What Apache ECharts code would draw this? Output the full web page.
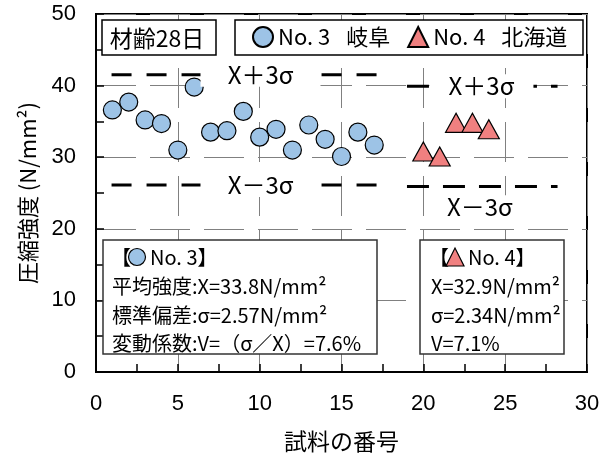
<!DOCTYPE html>
<html><head><meta charset="utf-8">
<script src="https://cdn.jsdelivr.net/npm/echarts@6/dist/echarts.min.js"></script>
<style>html,body{margin:0;padding:0;background:#fff}#c{width:609px;height:459px}</style>
</head><body><div id="c"></div>
<script>
// ---- data ----
const no3Sample = [1,2,3,4,5,6,7,8,9,10,11,12,13,14,15,16,17];
const no3Strength = [36.6,37.7,35.2,34.7,31.0,39.8,33.5,33.7,36.4,32.8,33.9,31.0,34.5,32.5,30.1,33.5,31.7];
const no4Sample = [20,21,22,23,24];
const no4Strength = [30.8,30.1,34.8,34.8,33.9];
const no3Limits = [41.5, 26.1];      // X+3σ, X−3σ
const no4Limits = [39.9, 25.9];
const no3LimitRange = [0.95, 17.2];
const no4LimitRange = [19.0, 28.2];
const seriesNames = ['No. 3\u2002 岐阜', 'No. 4\u2002 北海道'];
const limitTexts = ['X＋3σ', 'X－3σ'];
const ageText = '材齢28日';
const no3Title = 'No. 3】';
const no4Title = 'No. 4】';
const no3Stats = ['平均強度:X=33.8N/mm²', '標準偏差:σ=2.57N/mm²', '変動係数:V=（σ／X）=7.6%'];
const no4Stats = ['X=32.9N/mm²', 'σ=2.34N/mm²', 'V=7.1%'];
const xAxisName = '試料の番号';
const yAxisName = '圧縮強度 (N/mm²)';

// ---- style ----
const JP = "'Noto Sans CJK JP', sans-serif";
const NUM = "'Liberation Sans', sans-serif";
const BLUE = '#9DC3E6', RED = '#F08080';

function limitLine(range, y, dash, labels) {
  return {
    type: 'line', data: [[range[0], y], [range[1], y]], symbol: 'none', silent: true,
    lineStyle: { color: '#000', width: 3, type: dash }, z: 3,
    markPoint: {
      silent: true, z: 6, animation: false,
      data: labels.map(l => ({
        coord: [l.x, l.y], symbol: 'rect', symbolSize: [l.w, 24],
        itemStyle: { color: '#fff', borderWidth: 0 },
        label: { show: true, position: 'inside', formatter: l.text, color: '#000', fontFamily: JP, fontSize: 24 }
      }))
    }
  };
}

const chart = echarts.init(document.getElementById('c'), null, { renderer: 'canvas' });
chart.setOption({
  animation: false,
  backgroundColor: '#fff',
  grid: { left: 96, right: 22, top: 14, bottom: 87, show: true, borderColor: '#000', borderWidth: 2, containLabel: false },
  xAxis: {
    type: 'value', min: 0, max: 30, interval: 5,
    name: xAxisName, nameLocation: 'middle', nameGap: 58,
    nameTextStyle: { fontFamily: JP, fontSize: 23, color: '#000' },
    axisLine: { lineStyle: { color: '#000', width: 2 } },
    axisTick: { inside: true, length: 8, lineStyle: { color: '#000', width: 1.5 } },
    minorTick: { show: true, splitNumber: 2, length: 8, lineStyle: { color: '#000', width: 1.5 } },
    axisLabel: { fontFamily: NUM, fontSize: 22, color: '#000', margin: 21 },
    splitLine: { show: true, lineStyle: { color: '#808080', width: 1, type: [40, 14] } }
  },
  yAxis: {
    type: 'value', min: 0, max: 50, interval: 10,
    name: yAxisName, nameLocation: 'middle', nameGap: 57, nameRotate: 90,
    nameTextStyle: { fontFamily: JP, fontSize: 22, color: '#000' },
    axisLine: { show: true, lineStyle: { color: '#000', width: 2 } },
    axisTick: { show: true, inside: true, length: 8, lineStyle: { color: '#000', width: 1.5 } },
    minorTick: { show: true, splitNumber: 2, length: 8, lineStyle: { color: '#000', width: 1.5 } },
    axisLabel: { fontFamily: NUM, fontSize: 22, color: '#000', margin: 20 },
    splitLine: { show: true, lineStyle: { color: '#808080', width: 1, type: [40, 14] } }
  },
  legend: {
    data: seriesNames, left: 252, top: 26, padding: 0, itemWidth: 20, itemHeight: 20, itemGap: 17,
    textStyle: { fontFamily: JP, fontSize: 22, color: '#000' }, z: 10
  },
  series: [
    limitLine(no3LimitRange, no3Limits[0], [20, 15], [{ x: 10.05, y: no3Limits[0], w: 120, text: limitTexts[0] }]),
    limitLine(no3LimitRange, no3Limits[1], [20, 15], [{ x: 10.05, y: no3Limits[1], w: 120, text: limitTexts[1] }]),
    limitLine(no4LimitRange, no4Limits[0], [22, 14], [{ x: 23.55, y: no4Limits[0], w: 104, text: limitTexts[0] }]),
    limitLine(no4LimitRange, no4Limits[1], [22, 14], [{ x: 23.45, y: 23.0, w: 84, text: limitTexts[1] }]),
    { name: seriesNames[0], type: 'scatter', symbol: 'circle', symbolSize: 18, z: 5,
      data: no3Sample.map((s, i) => [s, no3Strength[i]]),
      itemStyle: { color: BLUE, borderColor: '#000', borderWidth: 1.2, opacity: 1 } },
    { name: seriesNames[1], type: 'scatter', symbol: 'triangle', symbolSize: [21, 19], z: 5,
      data: no4Sample.map((s, i) => [s, no4Strength[i]]),
      itemStyle: { color: RED, borderColor: '#000', borderWidth: 1.2, opacity: 1 } }
  ],
  graphic: [
    { type: 'rect', z: 8, shape: { x: 102, y: 20, width: 114, height: 35 }, style: { fill: '#fff', stroke: '#000', lineWidth: 1.5 } },
    { type: 'text', z: 9, x: 157, y: 38, style: { text: ageText, font: '23px ' + JP, fill: '#000', align: 'center', verticalAlign: 'middle' } },
    { type: 'rect', z: 8, shape: { x: 235, y: 20, width: 348, height: 35 }, style: { fill: '#fff', stroke: '#000', lineWidth: 1.5 } },

    { type: 'rect', z: 8, shape: { x: 103, y: 240, width: 274, height: 114 }, style: { fill: '#fff', stroke: '#333', lineWidth: 1.5 } },
    { type: 'text', z: 9, x: 111, y: 257, style: { text: '【', font: '20px ' + JP, fill: '#000', align: 'left', verticalAlign: 'middle' } },
    { type: 'circle', z: 10, shape: { cx: 137, cy: 257, r: 8.5 }, style: { fill: BLUE, stroke: '#000', lineWidth: 1.2 } },
    { type: 'text', z: 9, x: 150, y: 257, style: { text: no3Title, font: '20px ' + JP, fill: '#000', align: 'left', verticalAlign: 'middle' } },
    { type: 'text', z: 9, x: 112, y: 286, style: { text: no3Stats[0], font: '20px ' + JP, fill: '#000', align: 'left', verticalAlign: 'middle' } },
    { type: 'text', z: 9, x: 112, y: 315, style: { text: no3Stats[1], font: '20px ' + JP, fill: '#000', align: 'left', verticalAlign: 'middle' } },
    { type: 'text', z: 9, x: 112, y: 343, style: { text: no3Stats[2], font: '20px ' + JP, fill: '#000', align: 'left', verticalAlign: 'middle' } },

    { type: 'rect', z: 8, shape: { x: 420, y: 240, width: 144, height: 114 }, style: { fill: '#fff', stroke: '#333', lineWidth: 1.5 } },
    { type: 'text', z: 9, x: 429, y: 257, style: { text: '【', font: '20px ' + JP, fill: '#000', align: 'left', verticalAlign: 'middle' } },
    { type: 'polygon', z: 10, shape: { points: [[446, 266], [455, 248], [464, 266]] }, style: { fill: RED, stroke: '#000', lineWidth: 1.2 } },
    { type: 'text', z: 9, x: 468, y: 257, style: { text: no4Title, font: '20px ' + JP, fill: '#000', align: 'left', verticalAlign: 'middle' } },
    { type: 'text', z: 9, x: 431, y: 286, style: { text: no4Stats[0], font: '20px ' + JP, fill: '#000', align: 'left', verticalAlign: 'middle' } },
    { type: 'text', z: 9, x: 431, y: 315, style: { text: no4Stats[1], font: '20px ' + JP, fill: '#000', align: 'left', verticalAlign: 'middle' } },
    { type: 'text', z: 9, x: 431, y: 343, style: { text: no4Stats[2], font: '20px ' + JP, fill: '#000', align: 'left', verticalAlign: 'middle' } }
  ]
});
</script></body></html>
